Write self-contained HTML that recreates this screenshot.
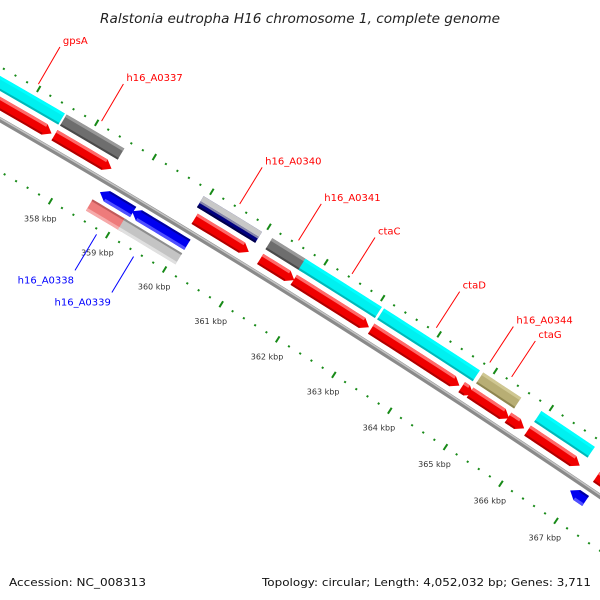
<!DOCTYPE html>
<html><head><meta charset="utf-8"><style>
html,body{margin:0;padding:0;background:#fff;overflow:hidden;}
svg{display:block;}
text{font-family:"DejaVu Sans","Liberation Sans",sans-serif;}
</style></head><body>
<svg id="map" width="600" height="600" viewBox="0 0 600 600" xmlns="http://www.w3.org/2000/svg">
<rect width="600" height="600" fill="#fff"/>
<text x="300" y="23" text-anchor="middle" font-size="13" font-style="italic" fill="#222" textLength="400" lengthAdjust="spacingAndGlyphs">Ralstonia eutropha H16 chromosome 1, complete genome</text>
<g id="ticks"></g>
<g id="backbone"></g>
<g id="features"></g>
<g id="labels"></g>
<text x="9" y="586" font-size="11" fill="#111" textLength="137" lengthAdjust="spacingAndGlyphs">Accession: NC_008313</text>
<text x="591" y="586" text-anchor="end" font-size="11" fill="#111" textLength="329" lengthAdjust="spacingAndGlyphs">Topology: circular; Length: 4,052,032 bp; Genes: 3,711</text>
</svg>
<script>
// ---- data (kbp) ----
const tickKbp = [355,356,357,358,359,360,361,362,363,364,365,366,367,368,369];
const tickLabels = ["","","","358 kbp","359 kbp","360 kbp","361 kbp","362 kbp","363 kbp","364 kbp","365 kbp","366 kbp","367 kbp","",""];
const featNames  = ["gpsA","gpsA-cds","h16_A0337","h16_A0337-cds","rev-arrow-1","h16_A0338","h16_A0339","rev-arrow-2","h16_A0340","h16_A0340-cds","h16_A0341","h16_A0341-cds","ctaC","ctaC-cds","ctaD","ctaD-cds","small-cds","h16_A0344","h16_A0344-cds","ctaG-cds","next-gene","next-cds","far-gene","far-cds","rev-arrow-3"];
const featStart  = [356.3,356.3,357.55,357.55,358.57,358.53,359.09,359.13,359.93,359.99,361.13,361.14,361.71,361.73,363.1,363.1,364.71,364.86,364.86,365.54,365.9,365.89,367.12,367.13,366.92];
const featEnd    = [357.52,357.5,358.55,358.54,359.15,359.15,360.1,360.1,360.95,360.94,361.78,361.74,363.06,363.06,364.8,364.67,364.92,365.54,365.56,365.83,366.86,366.83,368.5,368.5,367.2];
const featStrand = [0,1,0,1,-1,0,0,-1,0,1,0,1,0,1,0,1,1,0,1,1,0,1,0,1,-1];
const featTrack  = [2,1,2,1,-1,-2,-2,-1,2,1,2,1,2,1,2,1,1,2,1,1,2,1,2,1,-1];
const featColor  = ["cyan","red","gray","red","blue","pink","lgray","blue","navy","red","gray","red","cyan","red","cyan","red","red","khaki","red","red","cyan","red","cyan","red","blue"];
const labelNames = ["gpsA","h16_A0337","h16_A0340","h16_A0341","ctaC","ctaD","h16_A0344","ctaG","h16_A0338","h16_A0339"];
const labelKbp   = [356.96,358.05,360.45,361.48,362.42,363.91,364.86,365.25,358.85,359.5];
const labelSide  = [1,1,1,1,1,1,1,1,-1,-1];

// ---- geometry ----
const NS="http://www.w3.org/2000/svg";
const R=9500, CX=-4746.5, CY=8349, TH0=-57.7*Math.PI/180, K=0.00703, MID=362.5;
function pt(kbp,d){const t=TH0+(kbp-MID)*K;const r=R+d;return [CX+r*Math.cos(t),CY+r*Math.sin(t)];}
function mk(tag,attrs,parent){const e=document.createElementNS(NS,tag);for(const k in attrs)e.setAttribute(k,attrs[k]);parent.appendChild(e);return e;}
function arcPts(a,b,d,n){const p=[];for(let i=0;i<=n;i++){p.push(pt(a+(b-a)*i/n,d));}return p;}
const tracks={"1":[8,20],"2":[25,38],"-1":[-6,-18],"-2":[-22,-35]};
const pal={cyan:["#00f0f0","#00ffff","#00b8b8"],red:["#f00000","#ff6a6a","#b00000"],gray:["#6e6e6e","#999","#4a4a4a"],
blue:["#0000f0","#5050ff","#0000a0"],pink:["#ee7b7b","#f6aaaa","#c05a5a"],lgray:["#c4c4c4","#e0e0e0","#8e8e8e"],
khaki:["#b8ae74","#cfc792","#8e8650"],navy:["#000080","#c8c8c8","#00004a"]};

// backbone
const bb=document.getElementById('backbone');
const bbPts=arcPts(350,372,0,40).map(p=>p.join(',')).join(' ');
const bbPts2=arcPts(350,372,1.3,40).map(p=>p.join(',')).join(' ');
let e=mk('polyline',{points:bbPts,fill:'none',stroke:'#8a8a8a','stroke-width':5},bb);


e=mk('polyline',{points:bbPts2,fill:'none',stroke:'#c4c4c4','stroke-width':1.5},bb);



// ticks
const tg=document.getElementById('ticks');
for(let i=0;i<tickKbp.length;i++){
  for(let j=0;j<5;j++){
    const kb=tickKbp[i]+j*0.2;
    for(const side of [46,-45]){
      const len=j===0?7:2;
      const p1=pt(kb,side-len/2),p2=pt(kb,side+len/2);
      const l=mk('line',{x1:p1[0],y1:p1[1],x2:p2[0],y2:p2[1],stroke:'#178a17','stroke-width':2},tg);
      
      
    }
  }
  if(!tickLabels[i]) continue;
  const lp=pt(tickKbp[i],-65);
  const t=mk('text',{x:lp[0],y:lp[1]+3,'text-anchor':'middle','font-size':8,fill:'#333'},tg);
  t.textContent=tickLabels[i];
  
  
}

// features
const fg=document.getElementById('features');
function poly(pts,fill,parent){return mk('polygon',{points:pts.map(p=>p.join(',')).join(' '),fill:fill},parent);}
for(let i=0;i<featStart.length;i++){
  const a=featStart[i],b=featEnd[i],s=featStrand[i];
  const [d1,d2]=tracks[featTrack[i]];
  const c=pal[featColor[i]];
  const tip=Math.min(0.12,(b-a)*0.6);
  const g=mk('g',{},fg);
  
  
  let ba=a,bb2=b;
  let pts;
  if(s===1){bb2=b-tip;pts=arcPts(a,bb2,d2,8).concat([pt(b,(d1+d2)/2)]).concat(arcPts(bb2,a,d1,8));}
  else if(s===-1){ba=a+tip;pts=[pt(a,(d1+d2)/2)].concat(arcPts(ba,b,d2,8)).concat(arcPts(b,ba,d1,8));}
  else{pts=arcPts(a,b,d2,8).concat(arcPts(b,a,d1,8));}
  poly(pts,c[0],g);
  const outer=Math.abs(d2)>Math.abs(d1)?d2:d1, inner=outer===d2?d1:d2;
  const sg=Math.sign(outer);
  if(featColor[i]==='navy'){
    poly(arcPts(ba,bb2,outer,8).concat(arcPts(bb2,ba,outer-sg*6,8)),c[1],g);
    poly(arcPts(ba,bb2,outer-sg*6,8).concat(arcPts(bb2,ba,outer-sg*8,8)),'#8888aa',g);
  } else {
    poly(arcPts(ba,bb2,outer,8).concat(arcPts(bb2,ba,outer-sg*3,8)),c[1],g);
  }
  poly(arcPts(ba,bb2,inner+sg*2,8).concat(arcPts(bb2,ba,inner,8)),c[2],g);
}

// labels
const lg=document.getElementById('labels');
for(let i=0;i<labelNames.length;i++){
  const side=labelSide[i];
  const col=side>0?'#f00':'#00f';
  const p1=pt(labelKbp[i],side>0?50:-50);
  const p2=pt(labelKbp[i],side>0?93:-92);
  const l=mk('line',{x1:p1[0],y1:p1[1],x2:p2[0],y2:p2[1],stroke:col,'stroke-width':1},lg);
  
  
  const t=mk('text',{x:side>0?p2[0]+3:p2[0]-1,y:side>0?p2[1]-3:p2[1]+13,'text-anchor':side>0?'start':'end','font-size':10,fill:col},lg);
  t.textContent=labelNames[i];
  
  
}
</script>
</body></html>
